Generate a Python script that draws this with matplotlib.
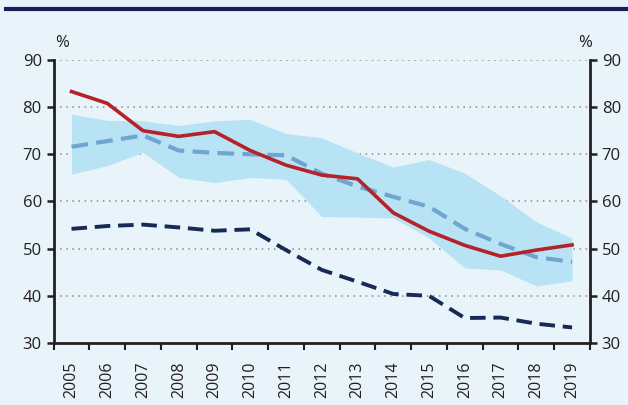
import matplotlib
matplotlib.use("Agg")
import matplotlib.pyplot as plt
import numpy as np

years = [str(y) for y in range(2005, 2020)]
red_line = [83.3, 80.8, 75.0, 73.8, 74.8, 70.8, 67.7, 65.6, 64.8, 57.6, 53.7, 50.7, 48.4, 49.7, 50.8]
median = [71.6, 72.8, 74.0, 70.8, 70.3, 70.0, 69.8, 65.9, 63.2, 61.0, 58.9, 54.2, 51.0, 48.2, 47.2]
band_upper = [78.5, 77.2, 77.1, 76.1, 77.1, 77.4, 74.4, 73.5, 70.3, 67.3, 68.9, 66.0, 61.2, 55.7, 52.2]
band_lower = [65.8, 67.6, 70.4, 65.1, 64.0, 65.1, 64.7, 56.8, 56.7, 56.5, 52.3, 45.9, 45.5, 42.1, 43.2]
navy_line = [54.2, 54.8, 55.1, 54.5, 53.8, 54.1, 49.7, 45.5, 43.0, 40.4, 40.0, 35.3, 35.4, 34.1, 33.3]
yticks = [30, 40, 50, 60, 70, 80, 90]

bg = "#e8f4fa"
plt.rcParams['font.family'] = ['Open Sans', 'DejaVu Sans']

fig = plt.figure(figsize=(6.28, 4.05), dpi=100, facecolor=bg)
ax = fig.add_axes([0.0854, 0.153, 0.854, 0.699], facecolor=bg)

x = np.arange(len(years))
ax.fill_between(x, band_lower, band_upper, color="#b8e3f5", lw=0, zorder=1)
ax.plot(x, median, color="#6fa6cf", lw=3, dashes=(4, 2), zorder=3)
ax.plot(x, red_line, color="#b5222a", lw=2.6, zorder=4)
ax.plot(x, navy_line, color="#162a55", lw=2.8, dashes=(4, 2), zorder=3)

ax.set_xlim(-0.5, len(years) - 0.5)
ax.set_ylim(30, 90)
ax.set_yticks(yticks)
for v in yticks[1:]:
    ax.axhline(v, color="#8a8a8a", lw=1.1, ls=(0, (1, 3)), zorder=0.5)

ax.set_xticks(x)
ax.set_xticklabels(years, rotation=90, fontsize=11.5, color="#231f20")
ax.set_xticks(np.arange(-0.5, len(years)), minor=True)
ax.tick_params(axis='x', which='major', length=0, pad=13)
ax.tick_params(axis='x', which='minor', length=5, width=1.5, color="#231f20", direction='out')

ax.tick_params(axis='y', which='major', length=5, width=1.8, color="#231f20",
               labelsize=12, labelcolor="#231f20", right=True, labelright=True, direction='out')

for s in ['left', 'right', 'bottom']:
    ax.spines[s].set_color("#231f20")
    ax.spines[s].set_linewidth(2)
ax.spines['top'].set_visible(False)

fig.text(0.099, 0.895, "%", fontsize=12, color="#231f20", ha='center', va='center')
fig.text(0.932, 0.895, "%", fontsize=12, color="#231f20", ha='center', va='center')

fig.add_artist(plt.Line2D([0.01, 1.0], [0.978, 0.978], color="#1a1f5c", lw=3, transform=fig.transFigure))

fig.savefig("out.png", dpi=100, facecolor=bg)
